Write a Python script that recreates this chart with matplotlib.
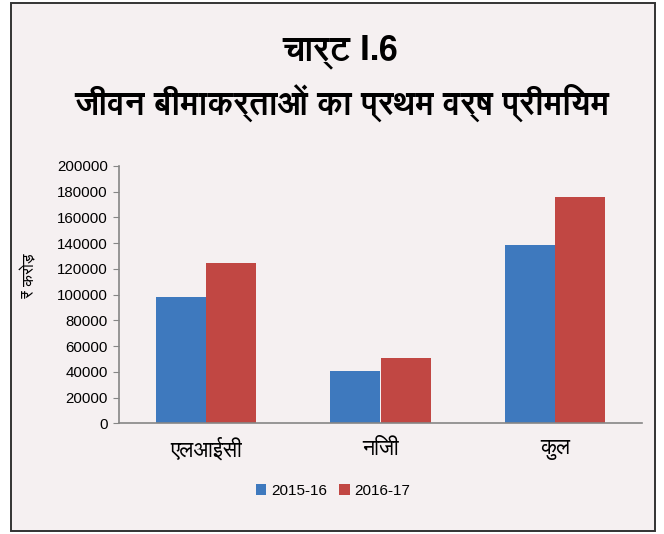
import matplotlib
matplotlib.use('Agg')
import matplotlib.pyplot as plt
import numpy as np
from matplotlib import font_manager
from matplotlib.ft2font import FT2Font
from matplotlib.patches import Rectangle

# data (Rs crore)
categories = ['एलआईसी', 'निजी', 'कुल']
years = ['2015-16', '2016-17']
premium_1516 = [97800, 40400, 138200]
premium_1617 = [124600, 50800, 175400]
yticks = [0, 20000, 40000, 60000, 80000, 100000, 120000, 140000, 160000, 180000, 200000]

title1 = 'चार्ट I.6'
title2 = 'जीवन बीमाकर्ताओं का प्रथम वर्ष प्रीमियम'
ylabel = '₹ करोड़'

# look for installed fonts that have Devanagari glyphs
deva_fonts = []
for f in font_manager.fontManager.ttflist:
    try:
        cmap = FT2Font(f.fname).get_charmap()
    except Exception:
        continue
    if 0x0915 in cmap and 0x093F in cmap:
        deva_fonts.append(f)
deva = deva_fonts[0].name if deva_fonts else 'DejaVu Sans'
deva_bold = [f.name for f in deva_fonts if f.weight in ('bold', 700, 600, 800)]
title_font = deva_bold[0] if deva_bold else deva
plt.rcParams['font.family'] = [title_font, 'DejaVu Sans']

blue = '#3E79BE'
red = '#C14743'
grey = '#868686'

fig = plt.figure(figsize=(6.64, 5.34), dpi=100)
fig.patch.set_facecolor('white')
W, H = 664, 534
fig.patches.append(Rectangle((11 / W, 3 / H), 644 / W, 528 / H, transform=fig.transFigure,
                             facecolor='#F5F0F1', edgecolor='#333333', linewidth=1.4, zorder=-5))

ax = fig.add_axes([119 / W, 1 - 423.3 / H, 523 / W, 257.5 / H])
ax.patch.set_alpha(0)

x = np.arange(len(categories))
w = 0.287
ax.bar(x - w / 2, premium_1516, w, color=blue, label=years[0])
ax.bar(x + w / 2, premium_1617, w, color=red, label=years[1])

ax.set_xlim(-0.5, 2.5)
ax.set_ylim(0, 200000)
ax.set_yticks(yticks)
ax.set_yticklabels([str(v) for v in yticks], family=['Liberation Sans', 'DejaVu Sans'], fontsize=10.8)
ax.set_xticks(x)
ax.set_xticklabels(categories, fontsize=15.5)
ax.tick_params(axis='x', length=0, pad=11)
ax.tick_params(axis='y', length=4, color=grey, pad=4)
for s in ['top', 'right']:
    ax.spines[s].set_visible(False)
for s in ['left', 'bottom']:
    ax.spines[s].set_color(grey)
    ax.spines[s].set_linewidth(1.2)

fig.text(30 / W, 1 - 276 / H, ylabel, rotation=90, ha='center', va='center', fontsize=11.5)
fig.text(340 / W, 1 - 52 / H, title1, ha='center', va='center', fontsize=24.5, fontweight='bold')
fig.text(342 / W, 1 - 103 / H, title2, ha='center', va='center', fontsize=23.5, fontweight='bold')

leg = fig.legend(loc='center', bbox_to_anchor=(333 / W, 1 - 491 / H), ncol=2, frameon=False,
                 prop={'family': ['Liberation Sans', 'DejaVu Sans'], 'size': 11},
                 handlelength=0.7, handleheight=0.7, handletextpad=0.3, columnspacing=0.8)

fig.savefig('out.png', dpi=100, facecolor=fig.get_facecolor())
